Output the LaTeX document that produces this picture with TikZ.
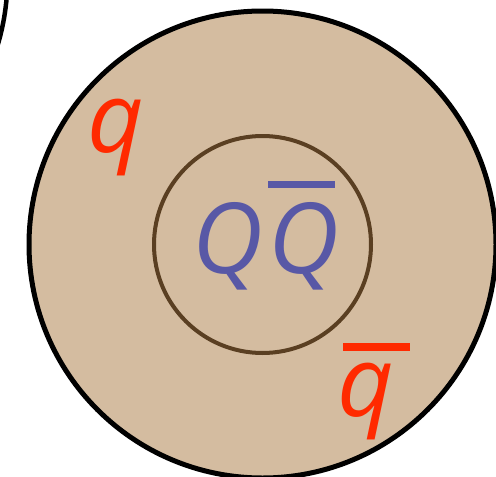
\documentclass[tikz,border=0pt]{standalone}
\usepackage{fontspec}
\setmainfont{Open Sans}
\usepackage{xcolor}
\usetikzlibrary{positioning}
\definecolor{hadronbg}{HTML}{D4BCA0}
\definecolor{coreline}{HTML}{5A3F22}
\definecolor{heavyq}{HTML}{5858A6}
\definecolor{lightq}{HTML}{FF2A00}

\begin{document}
\begin{tikzpicture}[x=1pt,y=1pt,
    every node/.style={font=\fontsize{98}{98}\selectfont\itshape,inner sep=0pt},
    heavy/.style={text=heavyq},
    light/.style={text=lightq}]
  \useasboundingbox (0,0) rectangle (496,-477);
  % neighbouring hadron, only its edge shows
  \draw[line width=4.5pt] (-224.5,22) circle[radius=232];
  % the hadron and its heavy core
  \draw[line width=5pt,fill=hadronbg] (262.5,-244.5) coordinate (c) circle[radius=233.5];
  \draw[line width=4pt,draw=coreline] (c) circle[radius=108.5];
  \node[heavy,anchor=base] (Q) at (228,-273) {Q};
  \node[heavy,anchor=base,right=5pt of Q.base east,anchor=base west] (Qbar) {Q};
  \draw[line width=7pt,draw=heavyq] (268,-184.5) -- (335,-184.5);
  % light quarks in the cloud
  \node[light,anchor=base] (q) at (116,-152) {q};
  \node[light,anchor=base] (qbar) at (366,-416) {q};
  \draw[line width=8pt,draw=lightq] (343,-347) -- (410,-347);
\end{tikzpicture}
\end{document}
